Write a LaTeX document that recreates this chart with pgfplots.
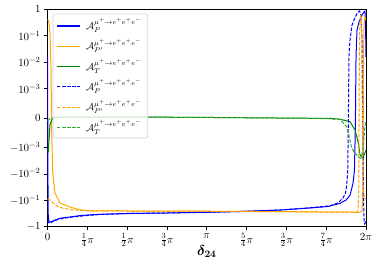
\documentclass[border=0pt]{standalone}
\usepackage{pgfplots}
\pgfplotsset{compat=1.18}
\usepackage{amsmath,bm}
\definecolor{cblue}{RGB}{0,0,255}
\definecolor{corange}{RGB}{255,165,0}
\definecolor{cgreen}{RGB}{0,128,0}
\definecolor{cgreenL}{RGB}{50,170,50}
\definecolor{cframe}{RGB}{210,210,210}
\tikzset{dsh/.style={dash pattern=on 3.5bp off 1.6bp},
  leg/.style={anchor=base west, inner sep=0pt, font=\fontsize{10}{12}\selectfont}}
\begin{document}
\begin{tikzpicture}
\begin{axis}[
  scale only axis, width=318.5bp, height=217.4bp,
  xmin=0, xmax=6.283185, ymin=-1, ymax=1,
  y coord trafo/.code={\begingroup\pgfkeys{/pgf/fpu=true,/pgf/fpu/output format=fixed}%
    \pgfmathparse{abs(#1)<=0.001 ? 1111.1111*(#1) : ((#1)<0 ? -1 : 1)*(1.1111111+ln(max(abs(#1),0.0001)*1000)/2.3025851)}%
    \pgfmathsmuggle\pgfmathresult\endgroup},
  ytick={-1,-0.1,-0.01,-0.001,0,0.001,0.01,0.1,1},
  yticklabels={$-1$,$-10^{-1}$,$-10^{-2}$,$-10^{-3}$,$0$,$10^{-3}$,$10^{-2}$,$10^{-1}$,$1$},
  xtick={0,0.785398,1.570796,2.356194,3.141593,3.926991,4.712389,5.497787,6.283185},
  xticklabels={$0$,$\frac{1}{4}\pi$,$\frac{1}{2}\pi$,$\frac{3}{4}\pi$,$\pi$,$\frac{5}{4}\pi$,$\frac{3}{2}\pi$,$\frac{7}{4}\pi$,$2\pi$},
  tick align=outside, tick pos=left, major tick length=3.5bp,
  tick style={black, line width=0.6bp},
  axis line style={black, line width=0.7bp},
  ticklabel style={font=\fontsize{11}{13}\selectfont},
  xlabel={$\boldsymbol{\delta_{24}}$},
  xlabel style={font=\fontsize{14}{16}\selectfont, yshift=8bp},
  every axis plot/.append style={line width=1bp},
]
% A_P solid
\addplot[color=cblue] coordinates {
(0,0.0157) (0.012,-0.30) (0.025,-0.60) (0.045,-0.67) (0.08,-0.64) (0.15,-0.56)
(0.247,-0.48) (0.35,-0.45) (0.444,-0.43) (0.64,-0.38) (0.8,-0.36) (1.04,-0.34)
(1.59,-0.315) (2.38,-0.303) (2.81,-0.29) (3.17,-0.285) (3.80,-0.266) (4.59,-0.234)
(5.18,-0.196) (5.53,-0.172) (5.77,-0.131) (5.89,-0.098) (5.968,-0.065) (6.027,-0.023)
(6.055,-0.0075) (6.072,-0.00041) (6.078,0.0006) (6.087,0.019) (6.106,0.165) (6.146,0.33)
(6.205,0.61) (6.245,0.79) (6.262,0.86) (6.276,0.165) (6.283,0.0157)};
% A_P' solid
\addplot[color=corange] coordinates {
(0,0.393) (0.016,0.39) (0.035,0.25) (0.049,0.127) (0.069,0.0066) (0.083,-0.00051)
(0.103,-0.0093) (0.148,-0.0532) (0.247,-0.127) (0.444,-0.18) (0.64,-0.23) (0.8,-0.25)
(1.59,-0.255) (3.17,-0.26) (4.74,-0.27) (5.53,-0.28) (6.16,-0.285) (6.205,-0.255)
(6.221,-0.04) (6.229,0) (6.235,0.019) (6.245,0.255) (6.261,0.5) (6.274,0.46) (6.283,0.393)};
% A_T solid
\addplot[color=cgreen] coordinates {
(0,-0.00126) (0.016,-0.0014) (0.03,-0.00075) (0.049,-0.00024) (0.083,-0.000068)
(0.148,0.000024) (0.5,0.000034) (2.8,0.000024) (4.5,0) (5.6,-0.000015) (5.77,-0.000044)
(5.968,-0.000126) (6.067,-0.00041) (6.132,-0.00085) (6.166,-0.00194) (6.219,-0.0026)
(6.254,-0.00178) (6.283,-0.00126)};
% A_P dashed
\addplot[color=cblue, dsh] coordinates {
(0,-0.56) (0.02,-0.70) (0.045,-0.74) (0.08,-0.68) (0.15,-0.58) (0.247,-0.51)
(0.444,-0.44) (0.8,-0.375) (1.04,-0.345) (1.59,-0.318) (2.38,-0.303) (3.17,-0.285)
(3.80,-0.266) (4.59,-0.234) (5.18,-0.192) (5.57,-0.162) (5.73,-0.127) (5.83,-0.082)
(5.880,-0.053) (5.903,-0.0265) (5.923,-0.0075) (5.933,-0.00041) (5.939,0.00061)
(5.948,0.019) (5.968,0.069) (6.008,0.255) (6.067,0.5) (6.126,0.79) (6.156,0.86)
(6.185,0.61) (6.205,0.069) (6.215,0.0006) (6.225,-0.003) (6.235,-0.098) (6.245,-0.56)
(6.255,-0.78) (6.270,-0.72) (6.283,-0.56)};
% A_P' dashed
\addplot[color=corange, dsh] coordinates {
(0,-0.09) (0.04,-0.095) (0.07,-0.11) (0.1,-0.12) (0.2,-0.17) (0.3,-0.2) (0.5,-0.23)
(0.8,-0.25) (1.59,-0.255) (3.17,-0.26) (4.74,-0.27) (5.53,-0.28) (6.10,-0.285)
(6.126,-0.234) (6.140,-0.04) (6.146,0) (6.152,0.019) (6.161,0.255) (6.175,0.61)
(6.189,0.5) (6.201,0.069) (6.209,0.0006) (6.215,-0.00126) (6.225,-0.0265)
(6.245,-0.069) (6.283,-0.09)};
% A_T dashed
\addplot[color=cgreenL, dsh] coordinates {
(0,-0.0001) (0.05,-0.00002) (0.15,0.000024) (0.5,0.000034) (2.8,0.000024) (4.5,0)
(5.5,-0.00002) (5.771,-0.00005) (5.902,-0.000296) (5.953,-0.00064) (6.001,-0.00106)
(6.067,-0.00164) (6.126,-0.00231) (6.180,-0.0026) (6.225,-0.00126) (6.264,-0.00024)
(6.283,-0.0001)};
% legend (drawn by hand)
\draw[cframe, fill=white, fill opacity=0.8, rounded corners=2bp, line width=0.6bp]
  (axis description cs:0.0173,0.4080) rectangle (axis description cs:0.3148,0.9784);
\draw[cblue, line width=1.1bp] (axis description cs:0.0298,0.9232) -- (axis description cs:0.1020,0.9232);
\draw[corange, line width=1.1bp] (axis description cs:0.0298,0.8298) -- (axis description cs:0.1020,0.8298);
\draw[cgreen, line width=1.1bp] (axis description cs:0.0298,0.7364) -- (axis description cs:0.1020,0.7364);
\draw[cblue, dsh, line width=1.1bp] (axis description cs:0.0298,0.6430) -- (axis description cs:0.1020,0.6430);
\draw[corange, dsh, line width=1.1bp] (axis description cs:0.0298,0.5496) -- (axis description cs:0.1020,0.5496);
\draw[cgreenL, dsh, line width=1.1bp] (axis description cs:0.0298,0.4562) -- (axis description cs:0.1020,0.4562);
\node[leg] at ([yshift=-3.6bp]axis description cs:0.1209,0.9232) {$\mathcal{A}_{P}^{\mu^+\to e^+e^+e^-}$};
\node[leg] at ([yshift=-3.6bp]axis description cs:0.1209,0.8298) {$\mathcal{A}_{P'}^{\mu^+\to e^+e^+e^-}$};
\node[leg] at ([yshift=-3.6bp]axis description cs:0.1209,0.7364) {$\mathcal{A}_{T}^{\mu^+\to e^+e^+e^-}$};
\node[leg] at ([yshift=-3.6bp]axis description cs:0.1209,0.6430) {$\mathcal{A}_{P}^{\mu^+\to e^+e^+e^-}$};
\node[leg] at ([yshift=-3.6bp]axis description cs:0.1209,0.5496) {$\mathcal{A}_{P'}^{\mu^+\to e^+e^+e^-}$};
\node[leg] at ([yshift=-3.6bp]axis description cs:0.1209,0.4562) {$\mathcal{A}_{T}^{\mu^+\to e^+e^+e^-}$};
\end{axis}
\pgfresetboundingbox
\path ([shift={(-47.5bp,-43.3bp)}]current axis.south west) rectangle ([shift={(15bp,9.3bp)}]current axis.north east);
\end{tikzpicture}
\end{document}
